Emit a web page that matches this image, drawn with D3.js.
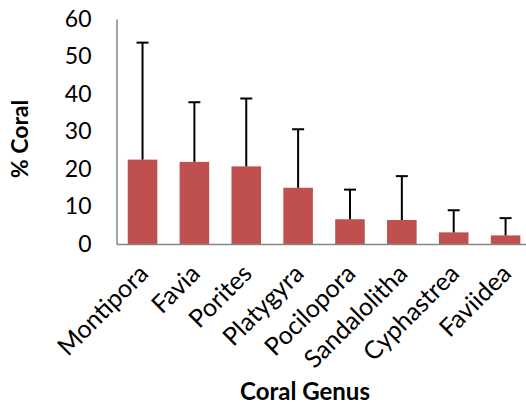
<!DOCTYPE html>
<html><head><meta charset="utf-8">
<script src="https://cdn.jsdelivr.net/npm/d3@7/dist/d3.min.js"></script>
<style>body{margin:0;background:#fff}svg{display:block}text{font-family:Lato,"Open Sans",sans-serif;fill:#000}</style>
</head><body>
<script>
const categories = ["Montipora","Favia","Porites","Platygyra","Pocilopora","Sandalolitha","Cyphastrea","Faviidea"];
const values = [22.5, 21.9, 20.7, 15.0, 6.6, 6.4, 3.1, 2.3];
const errorsUp = [31.2, 15.9, 18.1, 15.6, 7.9, 11.7, 5.9, 4.6];
const yTicks = [0,10,20,30,40,50,60];

const W = 526, H = 406;
const svg = d3.select("body").append("svg").attr("width", W).attr("height", H);
const x = d3.scaleBand().domain(categories).range([116.6, 531.5]).paddingInner(0.43).paddingOuter(0.215);
const y = d3.scaleLinear().domain([0,60]).range([244, 19]);

// bars
svg.append("g").selectAll("rect").data(categories).join("rect")
  .attr("x", d => x(d)).attr("width", x.bandwidth())
  .attr("y", (d,i) => y(values[i])).attr("height", (d,i) => y(0) - y(values[i]))
  .attr("fill", "#C0504D");

// error bars
const eb = svg.append("g").attr("stroke", "#000").attr("stroke-width", 2);
categories.forEach((c,i) => {
  const cx = x(c) + x.bandwidth()/2;
  eb.append("line").attr("x1", cx).attr("x2", cx).attr("y1", y(values[i])).attr("y2", y(values[i]+errorsUp[i]));
  eb.append("line").attr("x1", cx-6).attr("x2", cx+6).attr("y1", y(values[i]+errorsUp[i])).attr("y2", y(values[i]+errorsUp[i]));
});

// axes
const yAxis = svg.append("g").attr("transform", "translate(116.5,0)")
  .call(d3.axisLeft(y).tickValues(yTicks).tickSize(0).tickPadding(25));
yAxis.select(".domain").attr("stroke", "#868686").attr("stroke-width", 1.5);
yAxis.selectAll("text").attr("font-size", 23).attr("font-family", "Lato");

const xAxis = svg.append("g").attr("transform", "translate(0,244)")
  .call(d3.axisBottom(x).tickSize(0).tickSizeOuter(0).tickFormat(d => d));
xAxis.select(".domain").attr("stroke", "#868686").attr("stroke-width", 1.5);
xAxis.selectAll("text").attr("font-size", 25).attr("font-family", "Lato")
  .attr("text-anchor", "end").attr("dy", "0.35em").attr("y", 0)
  .attr("transform", "translate(1,25) rotate(-45)");

// titles
svg.append("text").attr("x", 305).attr("y", 400).attr("text-anchor", "middle")
  .attr("font-size", 24).attr("font-weight", "bold").text("Coral Genus");
svg.append("text").attr("transform", "translate(28,139) rotate(-90)").attr("text-anchor", "middle")
  .attr("font-size", 23).attr("font-weight", "bold").text("% Coral");
</script>
</body></html>
